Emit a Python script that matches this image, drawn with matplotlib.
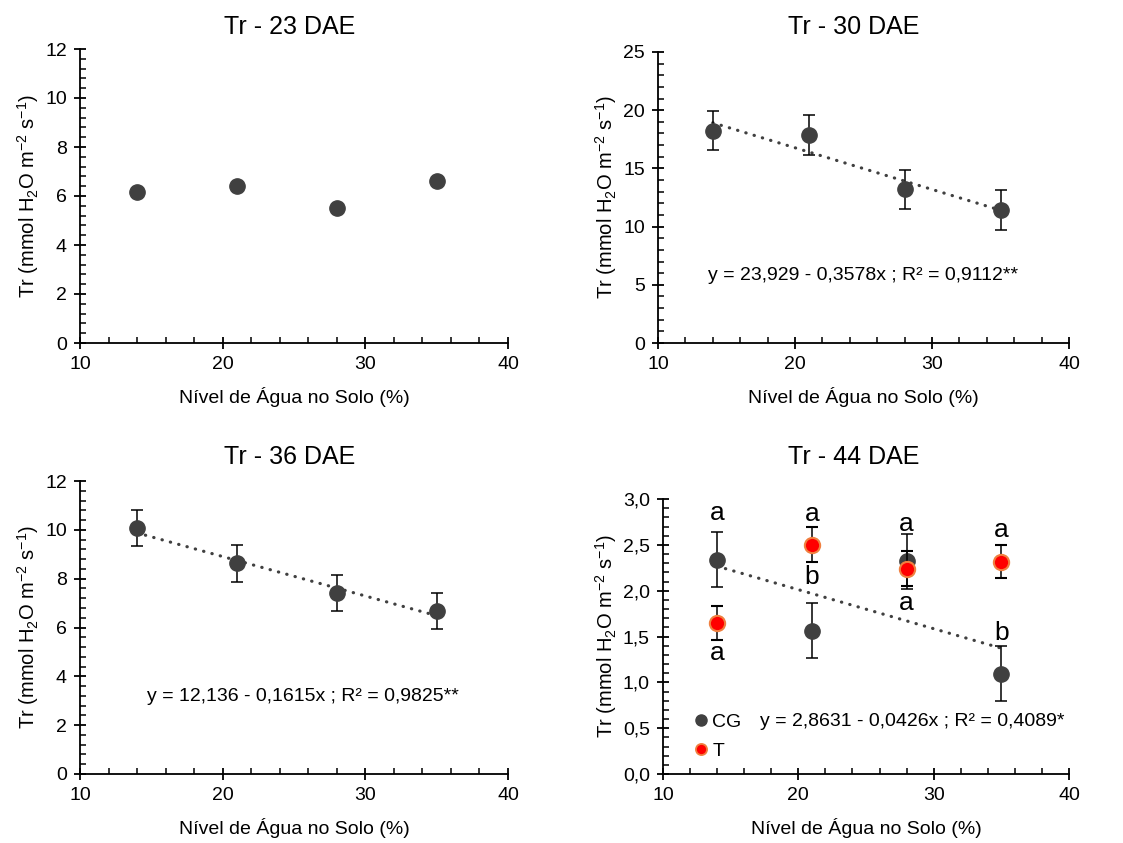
import matplotlib
matplotlib.use("Agg")
import matplotlib.pyplot as plt
from matplotlib.ticker import MultipleLocator, FuncFormatter
from matplotlib.lines import Line2D
import numpy as np

plt.rcParams['font.family'] = ['Liberation Sans', 'DejaVu Sans']
plt.rcParams['mathtext.fontset'] = 'custom'
plt.rcParams['mathtext.rm'] = 'Liberation Sans'

# soil water levels (%)
nivel = [14, 21, 28, 35]

# Tr at 23 DAE
tr23 = [6.18, 6.41, 5.50, 6.61]

# Tr at 30 DAE
tr30 = [18.25, 17.87, 13.20, 11.42]
err30 = [1.70, 1.70, 1.68, 1.70]
fit30 = (23.929, -0.3578)
eq30 = "y = 23,929 - 0,3578x ; R² = 0,9112**"

# Tr at 36 DAE
tr36 = [10.06, 8.63, 7.43, 6.66]
err36 = [0.74, 0.75, 0.74, 0.74]
fit36 = (12.136, -0.1615)
eq36 = "y = 12,136 - 0,1615x ; R² = 0,9825**"

# Tr at 44 DAE, two groups
tr44_cg = [2.337, 1.562, 2.319, 1.092]
err44_cg = [0.30, 0.30, 0.30, 0.30]
tr44_t = [1.646, 2.501, 2.239, 2.315]
err44_t = [0.185, 0.19, 0.19, 0.18]
fit44 = (2.8631, -0.0426)
eq44 = "y = 2,8631 - 0,0426x ; R² = 0,4089*"
letras_cg = ["a", "b", "a", "b"]
letras_t = ["a", "a", "a", "a"]

DARK = '#404040'
RED = '#FF0000'
ORANGE = '#F08040'
ylab = r'Tr (mmol H$_\mathregular{2}$O m$^\mathregular{-2}$ s$^\mathregular{-1}$)'
xlab = 'Nível de Água no Solo (%)'
FS = 14

fig = plt.figure(figsize=(11.23, 8.43), dpi=100)
W, H = 1123, 843


def make_axes(left, right, bottom, top):
    return fig.add_axes([left / W, 1 - bottom / H, (right - left) / W, (bottom - top) / H])


def style(ax, ymax, ystep, comma=False):
    ax.set_xlim(10, 40)
    ax.set_ylim(0, ymax)
    ax.xaxis.set_major_locator(MultipleLocator(10))
    ax.xaxis.set_minor_locator(MultipleLocator(2))
    ax.yaxis.set_major_locator(MultipleLocator(ystep))
    ax.yaxis.set_minor_locator(MultipleLocator(ystep / 5))
    for s in ['top', 'right']:
        ax.spines[s].set_visible(False)
    for s in ['left', 'bottom']:
        ax.spines[s].set_linewidth(1.3)
        ax.spines[s].set_color('black')
    ax.tick_params(which='major', direction='inout', length=9, width=1.3,
                   labelsize=FS, pad=5)
    ax.tick_params(which='minor', direction='in', length=4, width=1.1)
    ax.set_xlabel(xlab, fontsize=FS, labelpad=10)
    ax.set_ylabel(ylab, fontsize=14.5, labelpad=3)
    if comma:
        ax.yaxis.set_major_formatter(FuncFormatter(lambda v, p: f"{v:.1f}".replace('.', ',')))


def trend(ax, fit):
    xs = np.array([nivel[0], nivel[-1]])
    ax.plot(xs, fit[0] + fit[1] * xs, color=DARK, lw=2.3,
            linestyle=(0, (0.1, 2.6)), dash_capstyle='round', zorder=2)


ebkw = dict(ecolor='black', elinewidth=1.1, capsize=4, capthick=1.1)

# 23 DAE
ax1 = make_axes(80, 508, 343, 49)
ax1.plot(nivel, tr23, 'o', color=DARK, ms=11, zorder=3)
style(ax1, 12, 2)
fig.text(290 / W, 1 - 27 / H, 'Tr - 23 DAE', ha='center', va='center', fontsize=18)

# 30 DAE
ax2 = make_axes(658, 1069, 343, 52)
ax2.errorbar(nivel, tr30, yerr=err30, fmt='o', color=DARK, ms=11, zorder=3, **ebkw)
trend(ax2, fit30)
ax2.text(25.0, 5.8, eq30, ha='center', va='center', fontsize=FS)
style(ax2, 25, 5)
fig.text(854 / W, 1 - 27 / H, 'Tr - 30 DAE', ha='center', va='center', fontsize=18)

# 36 DAE
ax3 = make_axes(80, 508, 774, 481)
ax3.errorbar(nivel, tr36, yerr=err36, fmt='o', color=DARK, ms=11, zorder=3, **ebkw)
trend(ax3, fit36)
ax3.text(25.6, 3.17, eq36, ha='center', va='center', fontsize=FS)
style(ax3, 12, 2)
fig.text(290 / W, 1 - 457 / H, 'Tr - 36 DAE', ha='center', va='center', fontsize=18)

# 44 DAE
ax4 = make_axes(663, 1069, 774, 499)
ax4.errorbar(nivel, tr44_cg, yerr=err44_cg, fmt='o', color=DARK, ms=11, zorder=3, **ebkw)
ax4.errorbar(nivel, tr44_t, yerr=err44_t, fmt='o', mfc=RED, mec=ORANGE,
             mew=1.5, ms=11, zorder=4, **ebkw)
trend(ax4, fit44)
ax4.text(28.4, 0.57, eq44, ha='center', va='center', fontsize=FS)

# letters for mean comparison
let_y_cg = [2.85, 2.15, 2.73, 1.54]
let_y_t = [1.32, 2.84, 1.87, 2.66]
for x, l, y in zip(nivel, letras_cg, let_y_cg):
    ax4.text(x, y, l, ha='center', va='center', fontsize=19)
for x, l, y in zip(nivel, letras_t, let_y_t):
    ax4.text(x, y, l, ha='center', va='center', fontsize=19)

style(ax4, 3.0, 0.5, comma=True)
handles = [Line2D([], [], ls='', marker='o', color=DARK, ms=8),
           Line2D([], [], ls='', marker='o', mfc=RED, mec=ORANGE, mew=1.3, ms=8)]
ax4.legend(handles, ['CG', 'T'], loc='center left', bbox_to_anchor=(0.069, 0.136),
           frameon=False, fontsize=FS, borderpad=0, borderaxespad=0,
           handlelength=1.0, handletextpad=0.1, labelspacing=0.55)
fig.text(854 / W, 1 - 457 / H, 'Tr - 44 DAE', ha='center', va='center', fontsize=18)

fig.savefig('out.png', dpi=100)
